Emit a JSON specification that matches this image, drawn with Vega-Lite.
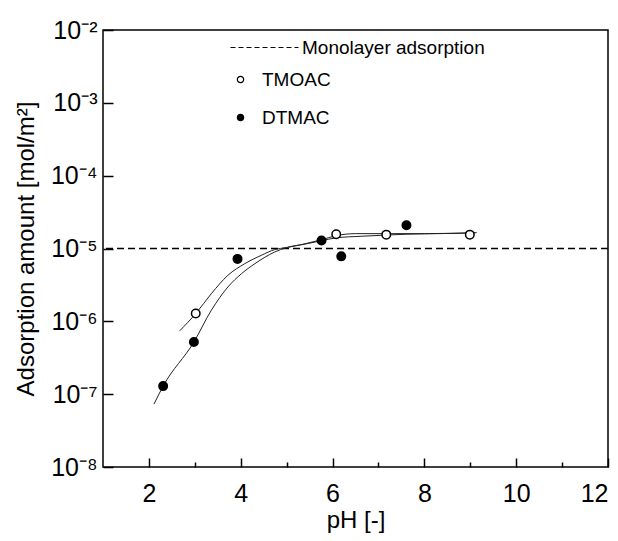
{
  "$schema": "https://vega.github.io/schema/vega-lite/v6.json",
  "width": 505,
  "height": 437,
  "autosize": "none",
  "padding": {"left": 103, "top": 30, "right": 10, "bottom": 74},
  "background": "white",
  "datasets": {
    "monolayer": [{"line": "Monolayer adsorption", "y": 1e-5}],
    "curves": [
      {"curve": "A", "pH": 2.67, "amount": 7.4e-7},
      {"curve": "A", "pH": 3.03, "amount": 1.3e-6},
      {"curve": "A", "pH": 3.36, "amount": 2.4e-6},
      {"curve": "A", "pH": 3.72, "amount": 4.28e-6},
      {"curve": "A", "pH": 4.09, "amount": 6.2e-6},
      {"curve": "A", "pH": 4.45, "amount": 8.07e-6},
      {"curve": "A", "pH": 4.74, "amount": 9.66e-6},
      {"curve": "A", "pH": 5.0, "amount": 1.03e-5},
      {"curve": "A", "pH": 5.4, "amount": 1.16e-5},
      {"curve": "A", "pH": 5.76, "amount": 1.32e-5},
      {"curve": "A", "pH": 6.08, "amount": 1.5e-5},
      {"curve": "A", "pH": 6.5, "amount": 1.6e-5},
      {"curve": "A", "pH": 7.17, "amount": 1.6e-5},
      {"curve": "A", "pH": 8.0, "amount": 1.6e-5},
      {"curve": "A", "pH": 9.14, "amount": 1.65e-5},
      {"curve": "B", "pH": 2.11, "amount": 7.3e-8},
      {"curve": "B", "pH": 2.31, "amount": 1.29e-7},
      {"curve": "B", "pH": 2.98, "amount": 5.2e-7},
      {"curve": "B", "pH": 3.36, "amount": 1.42e-6},
      {"curve": "B", "pH": 3.72, "amount": 2.96e-6},
      {"curve": "B", "pH": 4.02, "amount": 4.53e-6},
      {"curve": "B", "pH": 4.31, "amount": 6.2e-6},
      {"curve": "B", "pH": 4.74, "amount": 8.95e-6},
      {"curve": "B", "pH": 5.0, "amount": 1.03e-5},
      {"curve": "B", "pH": 5.4, "amount": 1.15e-5},
      {"curve": "B", "pH": 5.76, "amount": 1.28e-5},
      {"curve": "B", "pH": 6.08, "amount": 1.4e-5},
      {"curve": "B", "pH": 6.6, "amount": 1.47e-5},
      {"curve": "B", "pH": 7.17, "amount": 1.53e-5},
      {"curve": "B", "pH": 7.6, "amount": 1.57e-5},
      {"curve": "B", "pH": 8.0, "amount": 1.59e-5},
      {"curve": "B", "pH": 9.1, "amount": 1.63e-5}
    ],
    "points": [
      {"series": "TMOAC", "pH": 3.02, "amount": 1.28e-6},
      {"series": "TMOAC", "pH": 6.08, "amount": 1.57e-5},
      {"series": "TMOAC", "pH": 7.17, "amount": 1.55e-5},
      {"series": "TMOAC", "pH": 8.99, "amount": 1.55e-5},
      {"series": "DTMAC", "pH": 2.31, "amount": 1.29e-7},
      {"series": "DTMAC", "pH": 2.98, "amount": 5.2e-7},
      {"series": "DTMAC", "pH": 3.93, "amount": 7.2e-6},
      {"series": "DTMAC", "pH": 5.76, "amount": 1.29e-5},
      {"series": "DTMAC", "pH": 6.19, "amount": 7.8e-6},
      {"series": "DTMAC", "pH": 7.61, "amount": 2.08e-5}
    ]
  },
  "layer": [
    {
      "data": {"name": "monolayer"},
      "mark": {"type": "rule", "strokeDash": [7, 4], "strokeWidth": 1.3},
      "encoding": {
        "y": {
          "field": "y", "type": "quantitative",
          "scale": {"type": "log", "domain": [1e-8, 1e-2], "nice": false},
          "axis": {
            "title": "Adsorption amount [mol/m²]",
            "values": [1e-8, 1e-7, 1e-6, 1e-5, 1e-4, 1e-3, 1e-2],
            "labelExpr": "'10' + ['⁻⁸','⁻⁷','⁻⁶','⁻⁵','⁻⁴','⁻³','⁻²'][round(log(datum.value)/LN10) + 8]",
            "tickSize": -10,
            "labelPadding": 16,
            "titlePadding": 12
          }
        },
        "stroke": {
          "field": "line", "type": "nominal",
          "scale": {"range": ["black"]},
          "legend": {
            "title": null,
            "orient": "none",
            "legendX": 127,
            "legendY": -17,
            "symbolType": "stroke",
            "symbolSize": 4624,
            "symbolDash": [5, 3],
            "symbolStrokeWidth": 1,
            "labelOffset": 3,
            "labelFontSize": 19,
            "labelLimit": 0
          }
        }
      }
    },
    {
      "data": {"name": "curves"},
      "mark": {"type": "line", "interpolate": "monotone", "color": "#222", "strokeWidth": 1},
      "encoding": {
        "x": {
          "field": "pH", "type": "quantitative",
          "scale": {"domain": [1, 12], "nice": false, "zero": false},
          "axis": {
            "title": "pH [-]",
            "values": [2, 4, 6, 8, 10, 12],
            "tickSize": -9,
            "labelPadding": 23,
            "titlePadding": 2
          }
        },
        "y": {"field": "amount", "type": "quantitative"},
        "detail": {"field": "curve"}
      }
    },
    {
      "data": {"name": "points"},
      "mark": {"type": "point", "shape": "circle", "filled": true, "stroke": "black", "strokeWidth": 1.5, "size": 72, "opacity": 1},
      "encoding": {
        "x": {"field": "pH", "type": "quantitative", "axis": null},
        "y": {"field": "amount", "type": "quantitative"},
        "fill": {
          "field": "series", "type": "nominal",
          "scale": {"domain": ["TMOAC", "DTMAC"], "range": ["white", "black"]},
          "legend": {
            "title": null,
            "orient": "none",
            "legendX": 128,
            "legendY": 40,
            "symbolType": "circle",
            "symbolSize": 40,
            "symbolStrokeColor": "black",
            "symbolStrokeWidth": 1.2,
            "rowPadding": 18,
            "labelOffset": 12,
            "labelFontSize": 19,
            "labelLimit": 0
          }
        }
      }
    },
    {
      "data": {"name": "points"},
      "mark": {"type": "point", "opacity": 0},
      "encoding": {
        "x": {
          "field": "pH", "type": "quantitative",
          "axis": {
            "orient": "bottom",
            "values": [3, 5, 7, 9, 11],
            "labels": false,
            "title": null,
            "tickSize": -5
          }
        },
        "y": {"field": "amount", "type": "quantitative"}
      }
    }
  ],
  "resolve": {"axis": {"x": "independent"}},
  "config": {
    "font": "Liberation Sans",
    "view": {"stroke": "black", "strokeWidth": 1.5},
    "axis": {
      "domain": false,
      "grid": false,
      "zindex": 1,
      "labelColor": "black",
      "titleColor": "black",
      "tickColor": "black",
      "tickWidth": 1.5,
      "labelFontSize": 25,
      "titleFontSize": 24,
      "titleFontWeight": "normal",
      "labelFont": "Liberation Sans",
      "titleFont": "Liberation Sans"
    },
    "legend": {"labelColor": "black", "labelFont": "Liberation Sans"}
  }
}
